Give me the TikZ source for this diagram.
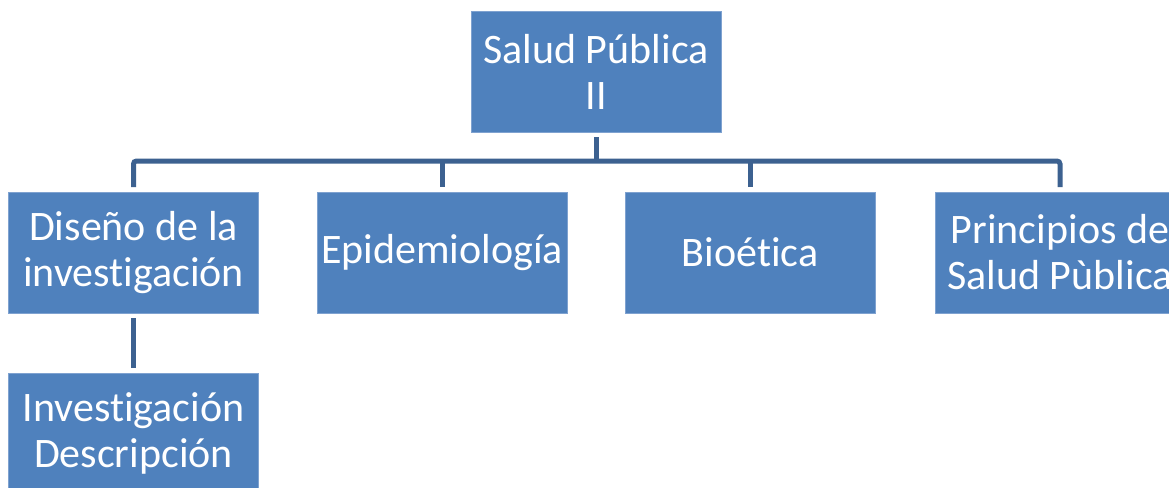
\documentclass[tikz,border=0pt]{standalone}
\usepackage{fontspec}
\newfontfamily\boxfont[Ligatures=NoCommon]{Carlito}
\definecolor{boxblue}{HTML}{4F81BD}
\definecolor{boxedge}{HTML}{7FA2D0}
\definecolor{connblue}{HTML}{3C6190}
\tikzset{
  orgbox/.style={rectangle, fill=boxblue, draw=boxedge, line width=0.8pt,
    minimum width=250pt, minimum height=121pt, inner sep=0pt, outer sep=5pt,
    text=white, align=center, font=\boxfont\fontsize{42}{46}\selectfont},
  conn/.style={draw=connblue, line width=5pt}
}
\begin{document}
\begin{tikzpicture}[x=1pt,y=-1pt]
\useasboundingbox (0,0) rectangle (1169,487);
\clip (0,0) rectangle (1169,487);
\fill[white] (0,0) rectangle (1169,487);
\node[orgbox] (top) at (596,71.5) {Salud Pública\\II};
\node[orgbox] (c1) at (133.5,252.5) {Diseño de la\\investigación};
\node[orgbox] (c2) at (442,252.5) {Epidemiología};
\node[orgbox] (c3) at (750,252.5) {Bioética};
\node[orgbox] (c4) at (1060,252.5) {Principios de\\Salud Pùblica};
\node[orgbox] (b1) at (133.5,433.5) {Investigación\\Descripción};
\coordinate (bar) at (0,161);
\draw[conn, rounded corners=3pt] (c1.north) -- (c1.north |- bar) -- (c4.north |- bar) -- (c4.north);
\draw[conn] (top.south) -- (top.south |- bar);
\draw[conn] (c2.north |- bar) -- (c2.north);
\draw[conn] (c3.north |- bar) -- (c3.north);
\draw[conn] (c1.south) -- (b1.north);
\end{tikzpicture}
\end{document}
